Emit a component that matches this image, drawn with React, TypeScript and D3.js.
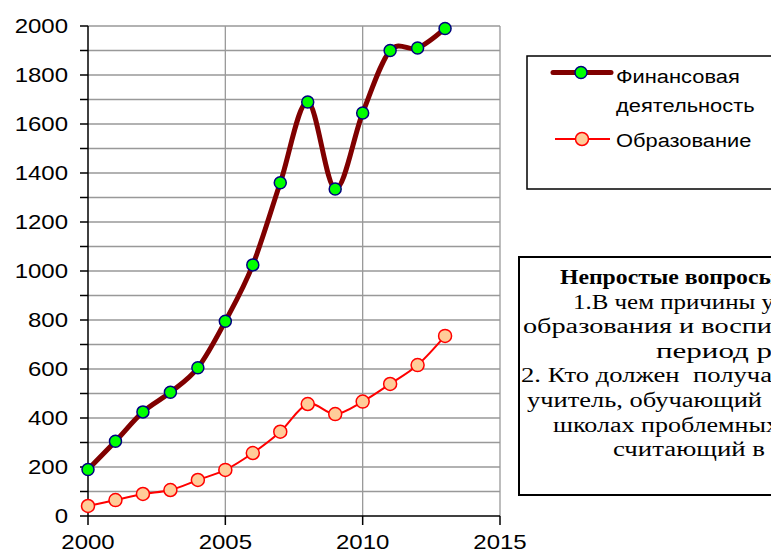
import React from "react";
import * as d3 from "d3";

const years = [2000, 2001, 2002, 2003, 2004, 2005, 2006, 2007, 2008, 2009, 2010, 2011, 2012, 2013];
const finance = [190, 305, 425, 505, 605, 795, 1025, 1360, 1690, 1335, 1645, 1900, 1910, 1990];
const education = [41, 65, 90, 106, 147, 188, 257, 344, 457, 416, 467, 539, 616, 735];
const yTicks = [0, 200, 400, 600, 800, 1000, 1200, 1400, 1600, 1800, 2000];
const yGrid = d3.range(100, 2001, 100);
const xTicks = [2000, 2005, 2010, 2015];
const legendLabels = [["Финансовая", "деятельность"], ["Образование"]];
// visible part of the clipped note box text
const noteLines = [
  "Непростые вопросы",
  "1.В чем причины у",
  "образования и воспи",
  "период р",
  "2. Кто должен  получа",
  "учитель, обучающий",
  "школах проблемных",
  "считающий в",
];

// layout of note lines (start x, rendered width)
const noteLayout: [number, number][] = [
  [560, 217],
  [573, 201],
  [523, 249],
  [656, 116],
  [521, 251],
  [527, 235],
  [553, 226],
  [613, 152],
];

function T(props: {
  x: number;
  y: number;
  sx: number;
  anchor?: string;
  family: string;
  size: number;
  children: React.ReactNode;
}) {
  return (
    <text
      transform={`translate(${props.x},${props.y}) scale(${props.sx},1)`}
      textAnchor={props.anchor || "start"}
      fontFamily={props.family}
      fontSize={props.size}
      fill="#000"
    >
      {props.children}
    </text>
  );
}

export default function App() {
  const x = d3.scaleLinear().domain([2000, 2015]).range([88, 500]);
  const y = d3.scaleLinear().domain([0, 2000]).range([516, 26]);
  const line = d3
    .line<number>()
    .x((_, i) => x(years[i]))
    .y((d) => y(d))
    .curve(d3.curveCardinal.tension(0));
  const sans = "'Liberation Sans', Arial, sans-serif";
  const serif = "'Liberation Serif', 'Times New Roman', serif";
  return (
    <svg
      width={771}
      height={554}
      style={{ position: "absolute", left: 0, top: 0, background: "#fff" }}
    >
      <rect x={0} y={0} width={771} height={554} fill="#fff" />
      {yGrid.map((v) => (
        <line key={"g" + v} x1={x(2000)} x2={x(2015)} y1={y(v)} y2={y(v)} stroke="#999" strokeWidth={1.3} />
      ))}
      {xTicks.slice(1).map((v) => (
        <line key={"vg" + v} x1={x(v)} x2={x(v)} y1={y(0)} y2={y(2000)} stroke="#999" strokeWidth={1.3} />
      ))}
      <line x1={x(2000)} x2={x(2000)} y1={y(0)} y2={y(2000)} stroke="#000" strokeWidth={1.5} />
      <line x1={x(2000)} x2={x(2015)} y1={y(0)} y2={y(0)} stroke="#000" strokeWidth={1.5} />
      {[0, ...yGrid].map((v) => (
        <line key={"t" + v} x1={x(2000) - 8} x2={x(2000)} y1={y(v)} y2={y(v)} stroke="#000" strokeWidth={1.5} />
      ))}
      {xTicks.map((v) => (
        <line key={"xt" + v} x1={x(v)} x2={x(v)} y1={y(0)} y2={y(0) + 9} stroke="#000" strokeWidth={1.5} />
      ))}
      {yTicks.map((v) => (
        <T key={"yl" + v} x={68} y={y(v) + 7} sx={1.2} anchor="end" family={sans} size={20}>
          {v}
        </T>
      ))}
      {xTicks.map((v) => (
        <T key={"xl" + v} x={x(v)} y={549} sx={1.2} anchor="middle" family={sans} size={20}>
          {v}
        </T>
      ))}
      <path d={line(education) || ""} fill="none" stroke="#ff0000" strokeWidth={2} />
      {education.map((v, i) => (
        <circle key={"e" + i} cx={x(years[i])} cy={y(v)} r={6.5} fill="#ffcc99" stroke="#ff0000" strokeWidth={1.5} />
      ))}
      <path d={line(finance) || ""} fill="none" stroke="#800000" strokeWidth={5} />
      {finance.map((v, i) => (
        <circle key={"f" + i} cx={x(years[i])} cy={y(v)} r={6} fill="#00ff00" stroke="#000080" strokeWidth={1.5} />
      ))}

      <rect x={527} y={56} width={300} height={133} fill="#fff" stroke="#000" strokeWidth={1.5} />
      <line x1={553} x2={611} y1={72.5} y2={72.5} stroke="#800000" strokeWidth={5} strokeLinecap="round" />
      <circle cx={581} cy={72.5} r={6} fill="#00ff00" stroke="#000080" strokeWidth={1.5} />
      <line x1={555} x2={610} y1={139} y2={139} stroke="#ff0000" strokeWidth={2} />
      <circle cx={582} cy={139} r={6.5} fill="#ffcc99" stroke="#ff0000" strokeWidth={1.5} />
      <T x={616} y={83} sx={1.15} family={sans} size={19}>{legendLabels[0][0]}</T>
      <T x={616} y={112} sx={1.15} family={sans} size={19}>{legendLabels[0][1]}</T>
      <T x={616} y={147} sx={1.15} family={sans} size={19}>{legendLabels[1][0]}</T>

      <rect x={519} y={257} width={300} height={238} fill="#fff" stroke="#000" strokeWidth={2} />
      {noteLines.map((t, i) => (
        <text
          key={"n" + i}
          x={noteLayout[i][0]}
          y={284 + i * 24.6}
          textLength={noteLayout[i][1]}
          lengthAdjust="spacingAndGlyphs"
          fontFamily={serif}
          fontSize={20}
          fontWeight={i === 0 ? "bold" : "normal"}
          style={{ whiteSpace: "pre" }}
          fill="#000"
        >
          {t}
        </text>
      ))}
    </svg>
  );
}
